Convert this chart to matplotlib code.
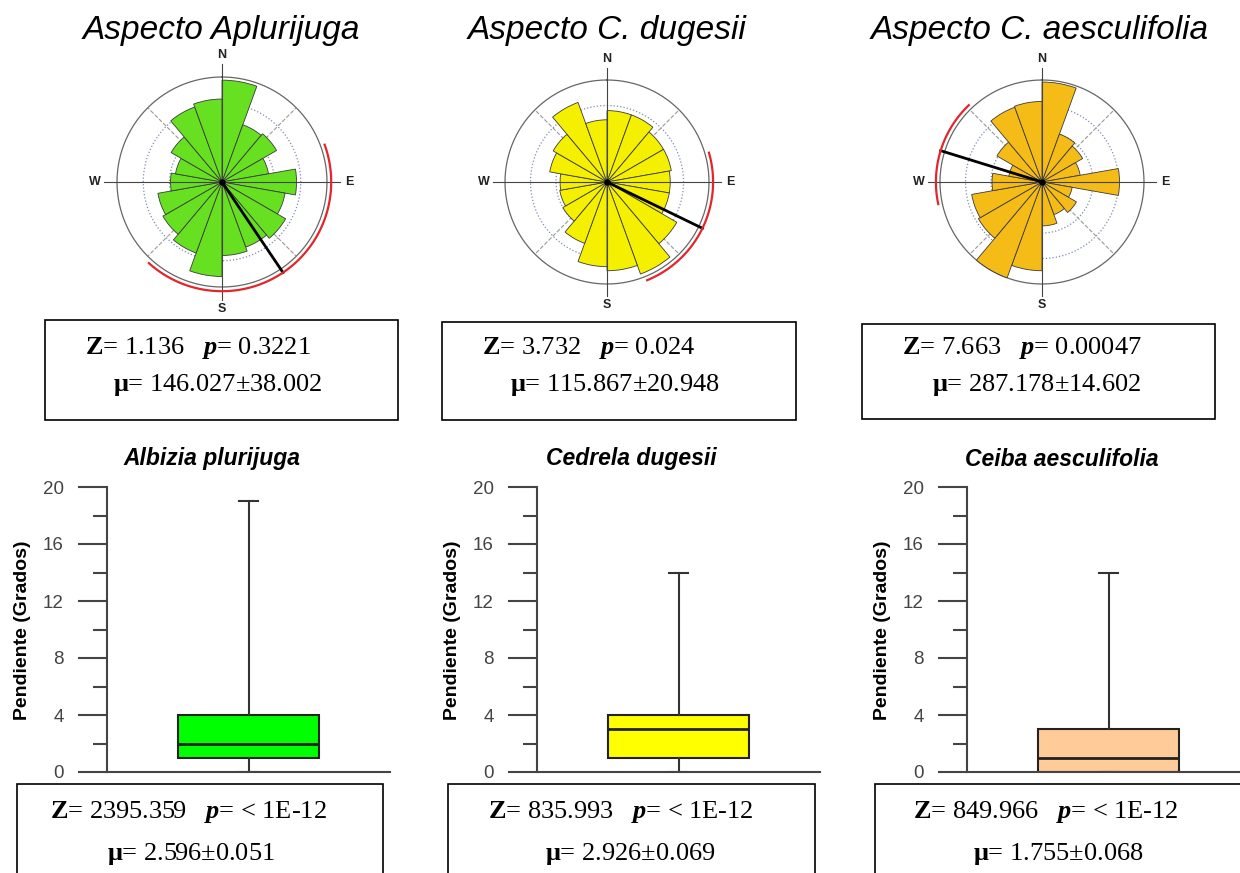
import numpy as np
import matplotlib.pyplot as plt
from matplotlib.patches import Rectangle

plt.rcParams['mathtext.fontset'] = 'custom'
plt.rcParams['mathtext.rm'] = 'Liberation Serif'
plt.rcParams['mathtext.bf'] = 'Liberation Serif:bold'
plt.rcParams['mathtext.it'] = 'Liberation Serif:italic'
plt.rcParams['mathtext.bfit'] = 'Liberation Serif:bold:italic'

# direction bins (20 deg), centre of each bin
bin_centers = np.arange(10, 360, 20)

# relative length of each petal (outer circle = 1)
aplurijuga_freq = [0.97, 0.58, 0.60, 0.45, 0.71, 0.61, 0.70, 0.66, 0.70,
                   0.90, 0.72, 0.65, 0.62, 0.49, 0.45, 0.56, 0.76, 0.79]
dugesii_freq = [0.70, 0.70, 0.64, 0.64, 0.62, 0.62, 0.79, 0.96, 0.87,
                0.83, 0.64, 0.50, 0.47, 0.46, 0.57, 0.61, 0.83, 0.61]
aesculifolia_freq = [0.98, 0.50, 0.46, 0.38, 0.76, 0.30, 0.39, 0.34, 0.43,
                     0.87, 1.00, 0.72, 0.70, 0.49, 0.33, 0.51, 0.78, 0.79]

rose_titles = ["Aspecto Aplurijuga", "Aspecto C. dugesii", "Aspecto C. aesculifolia"]
rose_z = ["1.136", "3.732", "7.663"]
rose_p = ["0.3221", "0.024", "0.00047"]
rose_mean = [146.027, 115.867, 287.178]
rose_err = [38.002, 20.948, 14.602]

# box plot summaries (pendiente, grados)
species = ["Albizia plurijuga", "Cedrela dugesii", "Ceiba aesculifolia"]
q1 = [1, 1, 0]
median = [2, 3, 1]
q3 = [4, 4, 3]
whis_lo = [0, 0, 0]
whis_hi = [19, 14, 14]
box_z = ["2395.359", "835.993", "849.966"]
box_mu = ["2.596±0.051", "2.926±0.069", "1.755±0.068"]

W, H = 1240, 873
fig = plt.figure(figsize=(12.4, 8.73), dpi=100)


def px_rect(x0, y0, x1, y1):
    return [x0 / W, 1 - y1 / H, (x1 - x0) / W, (y1 - y0) / H]


def rose(cx, cy, R, freq, color, mean, err):
    h = 1.35 * R
    ax = fig.add_axes(px_rect(cx - h, cy - h, cx + h, cy + h), projection='polar')
    ax.set_theta_zero_location('N')
    ax.set_theta_direction(-1)
    ax.set_ylim(0, 1.35)
    ax.set_axis_off()
    t = np.linspace(0, 2 * np.pi, 361)
    for r in (0.25, 0.5, 0.75):
        ax.plot(t, np.full_like(t, r), ls=':', color='#7d8cb8', lw=0.9, zorder=1)
    ax.plot(t, np.ones_like(t), color='#666666', lw=0.9, zorder=1)
    for a in (45, 135, 225, 315):
        ax.plot([np.deg2rad(a)] * 2, [0.25, 1.0], ls='--', color='#9a9a9a', lw=0.8, zorder=1)
    ax.bar(np.deg2rad(bin_centers), freq, width=np.deg2rad(20), color=color,
           edgecolor='#3a3a3a', lw=0.6, zorder=2)
    for a in (0, 90, 180, 270):
        ax.plot([np.deg2rad(a)] * 2, [0, 1.12], color='#444444', lw=0.8, zorder=3)
    for a, lab in zip((0, 90, 180, 270), "NESW"):
        ax.text(np.deg2rad(a), 1.21, lab, ha='center', va='center', fontsize=9,
                fontweight='bold', family='Liberation Sans', color='#222222')
    m = np.deg2rad(mean)
    ax.plot([m, m], [0, 1.04], color='black', lw=2, zorder=4)
    arc = np.deg2rad(np.linspace(mean - 2 * err, mean + 2 * err, 120))
    ax.plot(arc, np.full_like(arc, 1.04), color='#e3262b', lw=1.6, zorder=4)
    ax.plot(0, 0, 'o', ms=3.5, color='black', zorder=5)


def box(xa, i, color, title_x):
    ax = fig.add_axes(px_rect(xa, 487, xa + 283, 772))
    stats = dict(med=median[i], q1=q1[i], q3=q3[i], whislo=whis_lo[i],
                 whishi=whis_hi[i], fliers=[])
    ax.bxp([stats], positions=[1], widths=[1], capwidths=[0.13], showfliers=False,
           patch_artist=True,
           boxprops=dict(facecolor=color, edgecolor='#222222', lw=1.5),
           medianprops=dict(color='#222222', lw=2),
           whiskerprops=dict(color='#333333', lw=1.5),
           capprops=dict(color='#333333', lw=1.5))
    ax.set_xlim(0, 2)
    ax.set_ylim(0, 20)
    for s in ('top', 'right'):
        ax.spines[s].set_visible(False)
    for s in ('left', 'bottom'):
        ax.spines[s].set_color('#444444')
        ax.spines[s].set_linewidth(1.5)
    ax.set_yticks([0, 4, 8, 12, 16, 20])
    ax.set_yticks([2, 6, 10, 14, 18], minor=True)
    ax.tick_params(axis='y', which='major', length=21, width=1.5, color='#444444',
                   labelsize=13.5, labelcolor='#444444', pad=10)
    ax.tick_params(axis='y', which='minor', length=10, width=1.5, color='#444444')
    for lab in ax.get_yticklabels():
        lab.set_family('Liberation Sans')
    ax.set_xticks([])
    fig.text((xa - 84) / W, 1 - 630 / H, "Pendiente (Grados)", rotation=90,
             ha='center', va='center', fontsize=14, fontweight='bold',
             family='Liberation Sans')
    fig.text(title_x / W, 1 - 459 / H, species[i], ha='center', va='center',
             fontsize=16.5, fontweight='bold', style='italic', family='Liberation Sans')


def stat_box(x0, y0, x1, y1, tx1, tx2, ty1, ty2, line1, line2):
    fig.add_artist(Rectangle((x0 / W, 1 - y1 / H), (x1 - x0) / W, (y1 - y0) / H,
                             transform=fig.transFigure, fc='white', ec='black',
                             lw=1.2, zorder=2))
    fig.text(tx1 / W, 1 - ty1 / H, line1, ha='left', va='center', fontsize=19,
             family='Liberation Serif', zorder=3)
    fig.text(tx2 / W, 1 - ty2 / H, line2, ha='left', va='center', fontsize=19,
             family='Liberation Serif', zorder=3)


# rose diagrams
rose_cx = [222, 607, 1042]
rose_R = [105, 102, 102]
rose_colors = ['#66e020', '#f4f000', '#f5bc18']
rose_freqs = [aplurijuga_freq, dugesii_freq, aesculifolia_freq]
title_x = [221, 607, 1040]
for i in range(3):
    rose(rose_cx[i], 182, rose_R[i], rose_freqs[i], rose_colors[i], rose_mean[i], rose_err[i])
    fig.text(title_x[i] / W, 1 - 30 / H, rose_titles[i], ha='center', va='center',
             fontsize=24, style='italic', family='Liberation Sans')

top_boxes = [(45, 320, 398, 420, 85, 113), (442, 322, 796, 420, 482, 510),
             (862, 324, 1215, 419, 902, 932)]
for i, (x0, y0, x1, y1, t1, t2) in enumerate(top_boxes):
    stat_box(x0, y0, x1, y1, t1, t2, 348, 385,
             r"$\mathbf{Z}$= " + rose_z[i] + r"   $\mathbfit{p}$= " + rose_p[i],
             r"$\mathbf{μ}$= " + f"{rose_mean[i]:.3f}±{rose_err[i]:.3f}")

# box plots
box_axis_x = [107, 537, 967]
box_title_x = [212, 631, 1062]
box_colors = ['#00ff00', '#ffff00', '#ffcc99']
for i in range(3):
    box(box_axis_x[i], i, box_colors[i], box_title_x[i])

bottom_boxes = [(17, 784, 383, 880, 50, 107), (448, 784, 815, 880, 488, 545),
                (875, 784, 1250, 880, 913, 973)]
for i, (x0, y0, x1, y1, t1, t2) in enumerate(bottom_boxes):
    stat_box(x0, y0, x1, y1, t1, t2, 812, 854,
             r"$\mathbf{Z}$= " + box_z[i] + r"   $\mathbfit{p}$= < 1E-12",
             r"$\mathbf{μ}$= " + box_mu[i])

fig.savefig("out.png", dpi=100)
